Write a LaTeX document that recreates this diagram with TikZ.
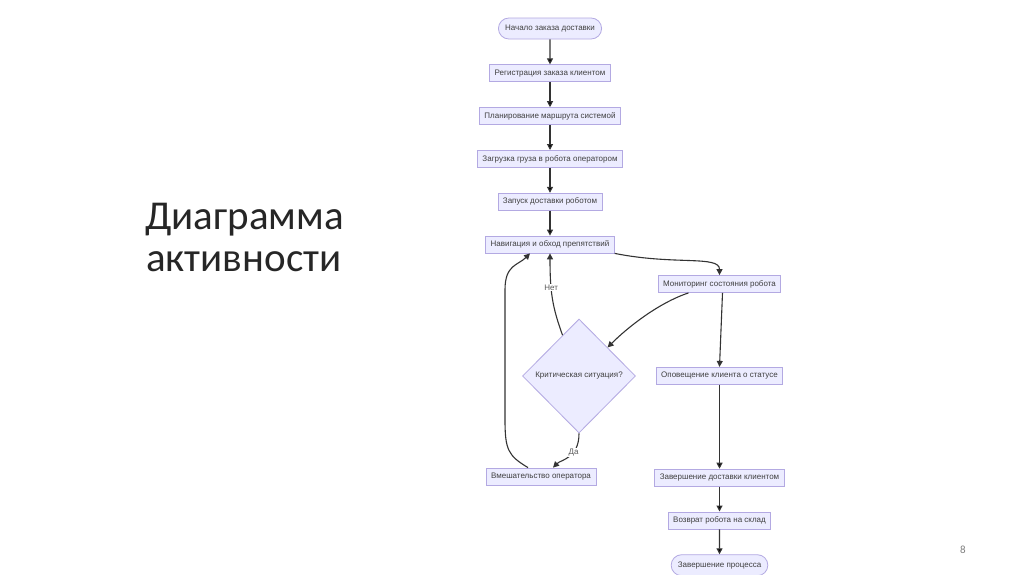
\documentclass[tikz,border=0pt]{standalone}
\usepackage{fontspec}
\setmainfont{Liberation Sans}
\newfontfamily\titlefont{Carlito}
\usetikzlibrary{arrows.meta,shapes.geometric,shapes.misc,positioning}
\definecolor{boxfill}{HTML}{ECECFF}
\definecolor{boxline}{HTML}{B3A9E2}
\definecolor{flowline}{HTML}{333333}
\tikzset{
	activity/.style={
		rectangle,
		draw=boxline, fill=boxfill, line width=0.8pt,
		minimum height=17pt,
		inner xsep=5pt, inner ysep=2pt,
		font=\fontsize{8}{9}\selectfont,
		text=black!75,
		text centered,
	},
	terminal/.style={
		activity, rounded rectangle, minimum height=21pt, inner xsep=6pt,
	},
	decision/.style={
		diamond, aspect=1,
		draw=boxline, fill=boxfill, line width=0.8pt,
		minimum width=113pt, minimum height=114pt, inner sep=0pt,
		font=\fontsize{8}{9}\selectfont,
		text=black!75,
	},
	flow/.style={draw=flowline, line width=1.1pt, -{Triangle[length=6pt,width=6pt]}},
	branch/.style={fill=white, inner sep=1pt, font=\fontsize{8}{9}\selectfont, text=black!65},
}

\begin{document}
\begin{tikzpicture}[x=1pt, y=1pt, node distance=25pt]
\fill[white] (0,0) rectangle (1024,-574);
\useasboundingbox (0,0) rectangle (1024,-574);

% title and page number
\node (title1) [anchor=base west, font=\titlefont\fontsize{41}{45}\selectfont, text=black!85, inner sep=0pt] at (145,-229) {Диаграмма};
\node (title2) [anchor=base west, font=\titlefont\fontsize{41}{45}\selectfont, text=black!85, inner sep=0pt] at (146,-271) {активности};
\node (pagenum) [font=\titlefont\fontsize{11}{12}\selectfont, text=black!50] at (963,-550) {8};

% left column
\node	(start)		[terminal]	at (550,-28.5)	{Начало заказа доставки};
\node	(register)	[activity]	[below=of start]	{Регистрация заказа клиентом};
\node	(plan)		[activity]	[below=of register]	{Планирование маршрута системой};
\node	(load)		[activity]	[below=of plan]	{Загрузка груза в робота оператором};
\node	(launch)	[activity]	[below=of load]	{Запуск доставки роботом};
\node	(navigate)	[activity]	[below=of launch]	{Навигация и обход препятствий};
\node	(critical)	[decision]	at (579,-376)	{Критическая ситуация?};
\node	(operator)	[activity]	at (541,-476.5)	{Вмешательство оператора};

% right column
\node	(monitor)	[activity]	at (719.5,-284)	{Мониторинг состояния робота};
\node	(notify)	[activity]	[below=74pt of monitor]	{Оповещение клиента о статусе};
\node	(complete)	[activity]	[below=84pt of notify]	{Завершение доставки клиентом};
\node	(back)		[activity]	[below=of complete]	{Возврат робота на склад};
\node	(finish)	[terminal]	[below=of back]	{Завершение процесса};

\path[flow] (start) edge (register);
\path[flow] (register) edge (plan);
\path[flow] (plan) edge (load);
\path[flow] (load) edge (launch);
\path[flow] (launch) edge (navigate);
\draw[flow] (navigate.south east) .. controls +(60,-12) and +(0,20) .. (monitor.north);
\draw[flow] ([xshift=-31pt]monitor.south) .. controls +(-30,-10) and +(20,20) .. (critical.45);
\draw[flow] (critical.112) .. controls +(-10,28) and +(0,-40) .. node[branch, pos=0.65] {Нет} (navigate.south);
\draw[flow] (critical.south) .. controls +(0,-25) and +(8,8) .. node[branch, pos=0.35] {Да} ([xshift=12pt]operator.north);
\draw[flow] ([xshift=-13pt]operator.north) .. controls +(-20,12) and +(0,-30) .. ++(-23,48)
	-- ++(0,130) .. controls +(0,25) and +(-12,-12) .. ([xshift=-20pt]navigate.south);
\draw[flow] ([xshift=3pt]monitor.south) -- (notify.north);
\path[flow] (notify) edge (complete);
\path[flow] (complete) edge (back);
\path[flow] (back) edge (finish);

\end{tikzpicture}
\end{document}
